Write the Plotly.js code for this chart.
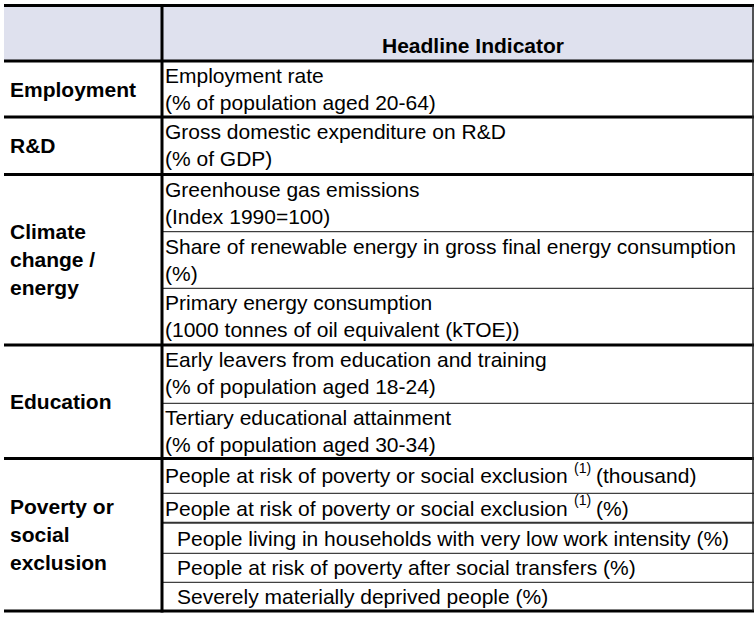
<!DOCTYPE html>
<html>
<head>
<meta charset="utf-8">
<script src="https://cdn.plot.ly/plotly-3.0.1.min.js"></script>
<style>html,body{margin:0;padding:0;background:#fff;}</style>
</head>
<body>
<div id="chart" style="width:754px;height:620px;"></div>
<script>
// ---------------- data ----------------
const headerTitle = "Headline Indicator";
const areas = ["Employment", "R&D", "Climate<br>change /<br>energy", "Education", "Poverty or<br>social<br>exclusion"];
const areaRowCounts = [1, 1, 3, 2, 5];
const indicatorNames = [
  "Employment rate",
  "Gross domestic expenditure on R&D",
  "Greenhouse gas emissions",
  "Share of renewable energy in gross final energy consumption",
  "Primary energy consumption",
  "Early leavers from education and training",
  "Tertiary educational attainment",
  "People at risk of poverty or social exclusion <sup>(1)</sup> (thousand)",
  "People at risk of poverty or social exclusion <sup>(1)</sup> (%)",
  "People living in households with very low work intensity (%)",
  "People at risk of poverty after social transfers (%)",
  "Severely materially deprived people (%)"
];
const indicatorUnits = [
  "(% of population aged 20-64)",
  "(% of GDP)",
  "(Index 1990=100)",
  "(%)",
  "(1000 tonnes of oil equivalent (kTOE))",
  "(% of population aged 18-24)",
  "(% of population aged 30-34)",
  "", "", "", "", ""
];

// ---------------- geometry / style ----------------
const W = 754, H = 620;
const tableLeft = 4, tableRight = 754, colDivider = 162, rightBorder = 753;
const tableTop = 5.5, headerBottom = 61;
const rowHeights = [56, 57.5, 57.2, 56.6, 56.7, 58.3, 55.2, 34.8, 29.4, 30.6, 29, 28.7];
const subIndent = [0, 0, 0, 0, 0, 0, 0, 0, 0, 1, 1, 1];
const doubleLineAfterRow = 8;
const FONT = "Liberation Sans, Arial, Helvetica, sans-serif";
const FS = 21, SUPFS = 14;
const headerFill = "#DFE1EE";
const thick = 3, thin = 1;
const catLinePitch = 28;

const ctx = document.createElement("canvas").getContext("2d");
function textWidth(s, size) {
  ctx.font = size + "px 'Liberation Sans', Arial, sans-serif";
  return ctx.measureText(s).width;
}

// row boundaries
const edges = [headerBottom];
rowHeights.forEach(h => edges.push(edges[edges.length - 1] + h));
const tableBottom = edges[edges.length - 1];

const shapes = [];
const annotations = [];
function addText(x, y, text, size, anchor) {
  annotations.push({xref: "x", yref: "y", x: x, y: y, text: text, showarrow: false,
    xanchor: anchor || "left", yanchor: "middle", align: "left",
    font: {family: FONT, size: size, color: "#000"}});
}

// header fill
shapes.push({type: "rect", xref: "x", yref: "y", x0: tableLeft, x1: tableRight, y0: tableTop, y1: headerBottom,
  fillcolor: headerFill, line: {width: 0}, layer: "below"});

// top line and header bottom line
shapes.push({type: "line", xref: "x", yref: "y", x0: tableLeft, x1: tableRight, y0: tableTop, y1: tableTop, line: {color: "#000", width: thick}});
shapes.push({type: "line", xref: "x", yref: "y", x0: tableLeft, x1: tableRight, y0: headerBottom, y1: headerBottom, line: {color: "#000", width: thick}});

// area separators + sub row separators + area labels
let r = 0;
areas.forEach((name, ai) => {
  const n = areaRowCounts[ai];
  const top = edges[r], bottom = edges[r + n];
  shapes.push({type: "line", xref: "x", yref: "y", x0: tableLeft, x1: tableRight, y0: bottom, y1: bottom, line: {color: "#000", width: thick}});
  for (let k = 1; k < n; k++) {
    const y = edges[r + k];
    const dbl = (r + k - 1) === doubleLineAfterRow;
    shapes.push({type: "line", xref: "x", yref: "y", x0: colDivider, x1: tableRight, y0: y, y1: y, line: {color: dbl ? "#333" : "#111", width: dbl ? 2 : thin}});
  }
  const lines = name.split("<br>");
  const mid = (top + bottom) / 2;
  lines.forEach((ln, li) => {
    addText(8, mid + (li - (lines.length - 1) / 2) * catLinePitch, "<b>" + ln + "</b>", FS);
  });
  r += n;
});

// indicator texts
indicatorNames.forEach((nm, i) => {
  const top = edges[i], bottom = edges[i + 1];
  const x = colDivider + 1 + subIndent[i] * 12;
  if (indicatorUnits[i]) {
    addText(x, top + 14.5, nm, FS);
    addText(x, top + 41.5, indicatorUnits[i], FS);
  } else {
    const y = (top + bottom) / 2;
    const m = nm.match(/^(.*?)<sup>(.*?)<\/sup>(.*)$/);
    if (m) {
      const before = m[1], sup = m[2], after = m[3];
      const supX = x + textWidth(before, FS);
      addText(x, y, before.trim(), FS);
      addText(supX, y - 8, sup, SUPFS);
      addText(supX + textWidth(sup, SUPFS) + textWidth(" ", FS), y, after.trim(), FS);
    } else {
      addText(x, y, nm, FS);
    }
  }
});

// header title
addText(473, headerBottom - 16, "<b>" + headerTitle + "</b>", FS, "center");

// vertical lines
shapes.push({type: "line", xref: "x", yref: "y", x0: colDivider, x1: colDivider, y0: tableTop - 1.5, y1: tableBottom + 1.5, line: {color: "#000", width: thick}});
shapes.push({type: "line", xref: "x", yref: "y", x0: rightBorder, x1: rightBorder, y0: tableTop, y1: tableBottom, line: {color: "#222", width: 1.5}});

const layout = {
  width: W, height: H,
  margin: {l: 0, r: 0, t: 0, b: 0, pad: 0},
  paper_bgcolor: "#fff", plot_bgcolor: "#fff",
  showlegend: false,
  xaxis: {range: [0, W], visible: false, fixedrange: true},
  yaxis: {range: [H, 0], visible: false, fixedrange: true},
  shapes: shapes,
  annotations: annotations
};

Plotly.newPlot("chart", [{type: "scatter", x: [], y: [], hoverinfo: "skip", showlegend: false}], layout,
  {displayModeBar: false, staticPlot: true});
</script>
</body>
</html>
